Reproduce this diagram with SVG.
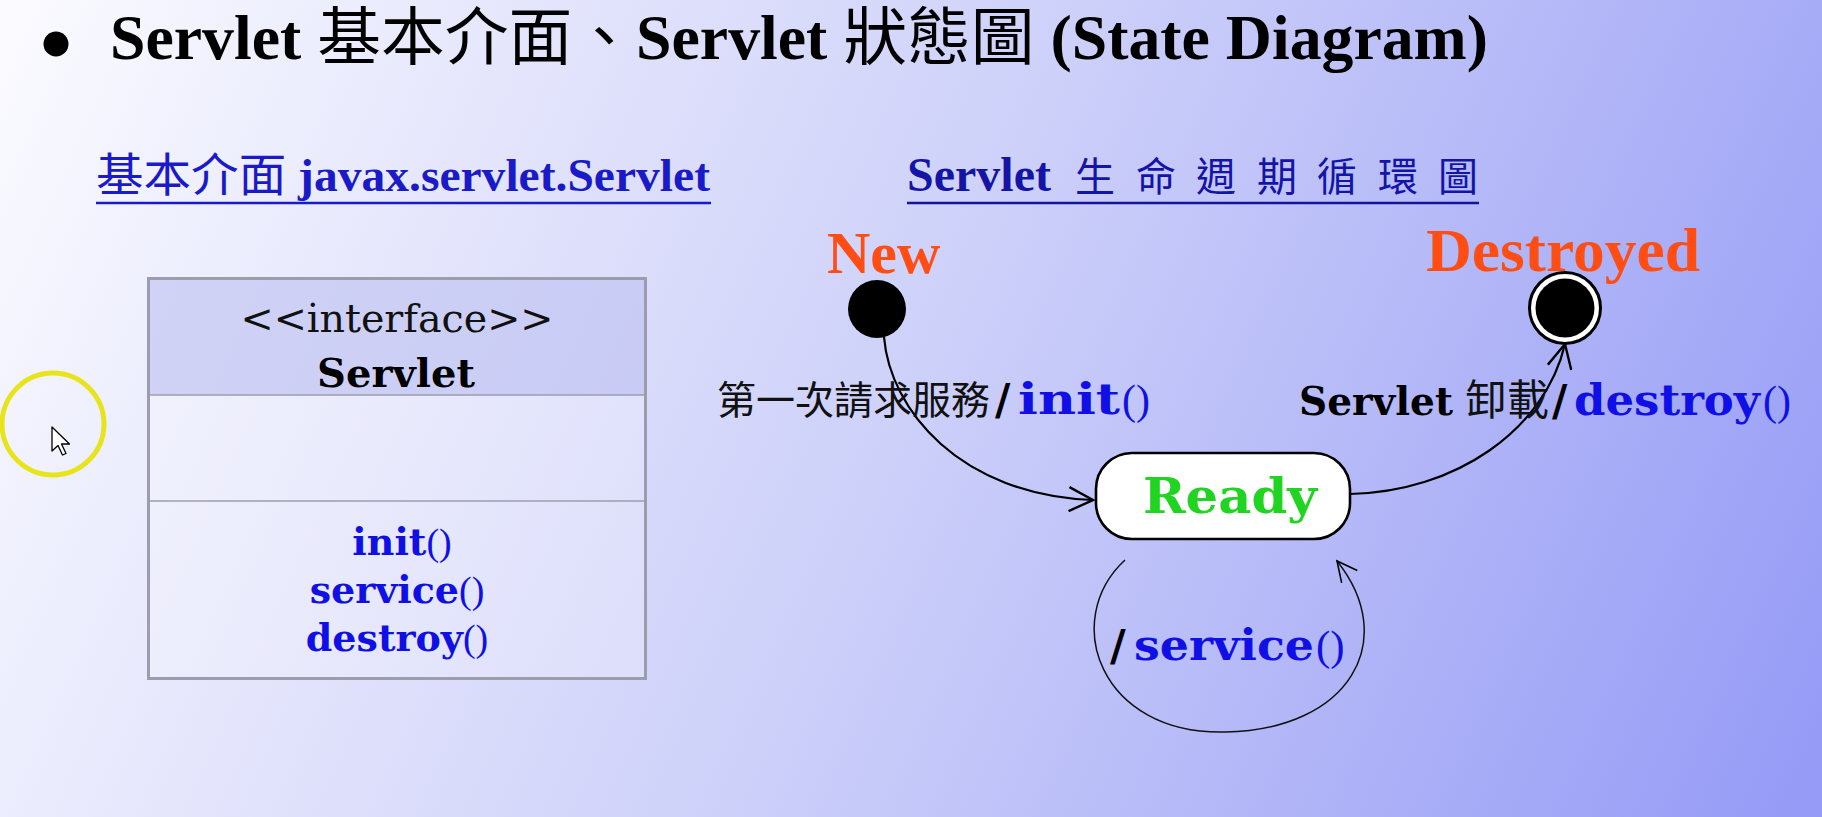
<svg xmlns="http://www.w3.org/2000/svg" width="1822" height="817" viewBox="0 0 1822 817">
  <defs>
    <linearGradient id="bg" gradientUnits="userSpaceOnUse" x1="0" y1="0" x2="1822" y2="817">
      <stop offset="0" stop-color="#fbfbff"/>
      <stop offset="0.5" stop-color="#cdd0f9"/>
      <stop offset="1" stop-color="#949af6"/>
    </linearGradient>
    <marker id="arrow" markerUnits="userSpaceOnUse" viewBox="0 0 28 26" refX="26" refY="13" markerWidth="28" markerHeight="26" orient="auto">
      <path d="M2,1 L26,13 L2,25" fill="none" stroke="#000" stroke-width="2.4"/>
    </marker>
    <marker id="arrowSmall" markerUnits="userSpaceOnUse" viewBox="0 0 24 22" refX="22" refY="11" markerWidth="24" markerHeight="22" orient="auto">
      <path d="M2,1 L22,11 L2,21" fill="none" stroke="#000" stroke-width="1.6"/>
    </marker>
    <style>
      .title { font-family: "Liberation Serif", "Noto Sans CJK TC", serif; font-weight: bold; font-size: 63px; fill: #000; }
      .cjk { font-family: "Noto Sans CJK TC", sans-serif; font-weight: normal; }
      .serifb { font-family: "Liberation Serif", serif; font-weight: bold; }
      .slab { font-family: "DejaVu Serif", "Liberation Serif", serif; font-weight: bold; }
      .paren { font-family: "Liberation Serif", serif; font-weight: normal; }
      .sub1 { fill: #1a1ac8; font-size: 46px; }
      .sub2 { fill: #1414a6; }
      .method { fill: #1010e6; }
      .state-name { fill: #ff4d14; font-family: "Liberation Serif", serif; font-weight: bold; }
      .edge { fill: none; stroke: #000; stroke-width: 2.2; }
      .loop { fill: none; stroke: #111; stroke-width: 1.5; }
      .uline { stroke-width: 2.5; }
    </style>
  </defs>

  <!-- slide background -->
  <rect x="0" y="0" width="1822" height="817" fill="url(#bg)"/>

  <!-- heading -->
  <g id="title">
    <circle cx="56" cy="44" r="12.5" fill="#000"/>
    <text class="title" x="110" y="59" textLength="1378" lengthAdjust="spacingAndGlyphs">Servlet <tspan class="cjk" font-weight="bold">基本介面、</tspan>Servlet <tspan class="cjk" font-weight="bold">狀態圖</tspan> (State Diagram)</text>
  </g>

  <!-- section captions -->
  <g id="caption-interface">
    <text x="96" y="191" class="sub1" textLength="614" lengthAdjust="spacingAndGlyphs"><tspan class="cjk">基本介面</tspan><tspan class="serifb"> javax.servlet.Servlet</tspan></text>
    <line class="uline" x1="96" y1="203" x2="711" y2="203" stroke="#1a1ac8"/>
  </g>
  <g id="caption-lifecycle">
    <text y="191" class="sub2"><tspan class="serifb" x="907" font-size="48">Servlet</tspan><tspan class="cjk" font-size="40" x="1075 1125 1136 1186 1196 1247 1257 1307 1317 1368 1378 1428 1438">生 命 週 期 循 環 圖</tspan></text>
    <line class="uline" x1="907" y1="203" x2="1479" y2="203" stroke="#14149a"/>
  </g>

  <!-- UML interface box -->
  <g id="node-servlet-interface">
    <rect x="148.5" y="278.5" width="497" height="400" fill="#ffffff" fill-opacity="0.22" stroke="#9c9cac" stroke-width="3"/>
    <rect x="150" y="280" width="494" height="115" fill="#b4b8ee" fill-opacity="0.55"/>
    <line x1="150" y1="395" x2="644" y2="395" stroke="#9c9cac" stroke-width="1.6"/>
    <line x1="150" y1="501" x2="644" y2="501" stroke="#9c9cac" stroke-width="1.6"/>
    <text x="397" y="332" text-anchor="middle" font-family="DejaVu Serif, Liberation Serif, serif" font-size="39" fill="#111" textLength="313" lengthAdjust="spacingAndGlyphs">&lt;&lt;interface&gt;&gt;</text>
    <text x="396" y="387" text-anchor="middle" class="slab" font-size="40" fill="#000">Servlet</text>
    <text x="402" y="555" text-anchor="middle" font-size="38" class="method"><tspan class="slab">init</tspan><tspan class="paren">()</tspan></text>
    <text x="397" y="603" text-anchor="middle" font-size="38" class="method"><tspan class="slab">service</tspan><tspan class="paren">()</tspan></text>
    <text x="397" y="651" text-anchor="middle" font-size="38" class="method"><tspan class="slab">destroy</tspan><tspan class="paren">()</tspan></text>
  </g>

  <!-- states -->
  <g id="node-new">
    <text class="state-name" x="827" y="273" font-size="60">New</text>
    <circle cx="877" cy="309" r="29" fill="#000"/>
  </g>
  <g id="node-ready">
    <rect x="1096" y="453" width="254" height="86" rx="36" ry="36" fill="#fff" stroke="#000" stroke-width="2.6"/>
    <text class="slab" x="1143" y="513" font-size="49" fill="#22d422" textLength="174" lengthAdjust="spacingAndGlyphs">Ready</text>
  </g>
  <g id="node-destroyed">
    <text class="state-name" x="1426" y="271" font-size="62" textLength="274" lengthAdjust="spacingAndGlyphs">Destroyed</text>
    <circle cx="1565" cy="308" r="35.5" fill="#fff" stroke="#000" stroke-width="3"/>
    <circle cx="1565" cy="308" r="29.5" fill="#000"/>
  </g>

  <!-- transitions -->
  <g id="connectors">
    <path class="edge" d="M884,337 C890,410 960,495 1093,500" marker-end="url(#arrow)"/>
    <path class="edge" d="M1350,494 C1455,492 1545,430 1565,344" marker-end="url(#arrow)"/>
    <path class="loop" d="M1125,560 C1060,620 1100,735 1225,732 C1350,730 1400,640 1337,561" marker-end="url(#arrowSmall)"/>
  </g>

  <!-- transition labels -->
  <g id="labels">
    <text y="414">
      <tspan class="cjk" x="717" font-size="39" fill="#111">第一次請求服務</tspan><tspan class="slab" x="995" font-size="42" fill="#000">/</tspan><tspan class="slab method" x="1018" font-size="42" textLength="102" lengthAdjust="spacingAndGlyphs">init</tspan><tspan class="paren method" x="1122" font-size="42">()</tspan>
    </text>
    <text y="415">
      <tspan class="slab" x="1299" font-size="40" fill="#000" textLength="154" lengthAdjust="spacingAndGlyphs">Servlet</tspan><tspan class="cjk" x="1465" font-size="42" fill="#111">卸載</tspan><tspan class="slab" x="1552" font-size="42" fill="#000">/</tspan><tspan class="slab method" x="1574" font-size="42" textLength="186" lengthAdjust="spacingAndGlyphs">destroy</tspan><tspan class="paren method" x="1763" font-size="42">()</tspan>
    </text>
    <text y="660">
      <tspan class="slab" x="1110" font-size="43" fill="#000">/</tspan><tspan class="slab method" x="1134" font-size="43" textLength="180" lengthAdjust="spacingAndGlyphs">service</tspan><tspan class="paren method" x="1316" font-size="43">()</tspan>
    </text>
  </g>

  <!-- pointer highlight -->
  <g id="pointer">
    <circle cx="53" cy="424" r="51" fill="none" stroke="#e8e41c" stroke-width="5"/>
    <path d="M52,427 L52,451 L58,445.5 L62.5,455 L66,453.5 L61.5,444 L69.5,444 Z" fill="#fff" stroke="#000" stroke-width="1.3" stroke-linejoin="round"/>
  </g>
</svg>
